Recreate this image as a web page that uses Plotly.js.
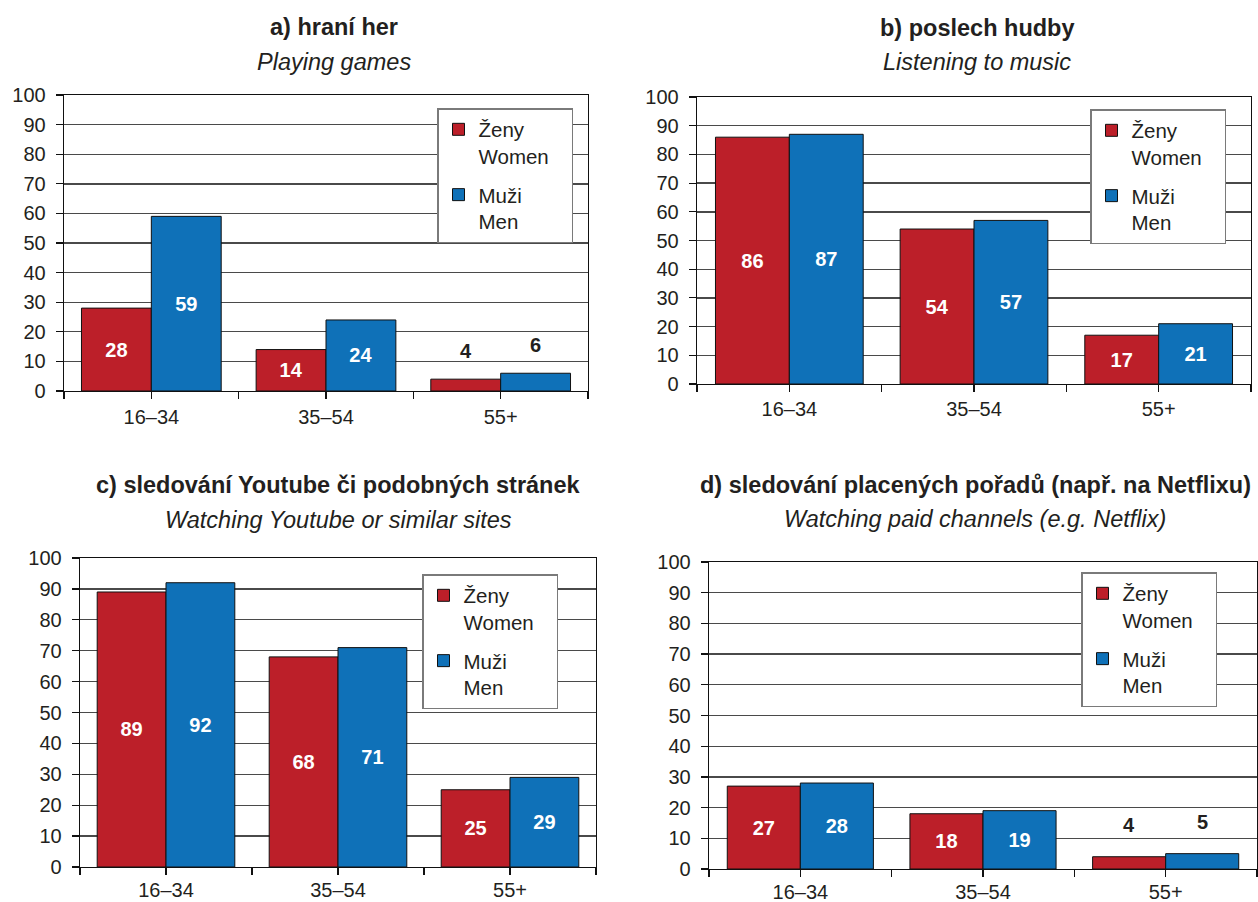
<!DOCTYPE html>
<html>
<head>
<meta charset="utf-8">
<script src="https://cdn.plot.ly/plotly-3.0.1.min.js"></script>
<style>html,body{margin:0;padding:0;background:#fff;}#chart{width:1258px;height:902px;}</style>
</head>
<body>
<div id="chart"></div>
<script>
// ---- data ----
const categories = ['16–34', '35–54', '55+'];
const gamesWomen = [28, 14, 4];
const gamesMen = [59, 24, 6];
const musicWomen = [86, 54, 17];
const musicMen = [87, 57, 21];
const youtubeWomen = [89, 68, 25];
const youtubeMen = [92, 71, 29];
const paidWomen = [27, 18, 4];
const paidMen = [28, 19, 5];
const seriesNames = ['Ženy<br>Women\u00A0\u00A0\u00A0', 'Muži<br>Men'];
const panelTitles = ['a) hraní her', 'b) poslech hudby', 'c) sledování Youtube či podobných stránek', 'd) sledování placených pořadů (např. na Netflixu)'];
const panelSubtitles = ['Playing games', 'Listening to music', 'Watching Youtube or similar sites', 'Watching paid channels (e.g. Netflix)'];
const yTicks = [0, 10, 20, 30, 40, 50, 60, 70, 80, 90, 100];

// ---- styling ----
const W = 1258, H = 902;
const FONT = 'Liberation Sans, Arial, Helvetica, sans-serif';
const TXT = '#231F20';
const RED = '#BC1F29';
const BLUE = '#0F71B8';
const BARGAP = 0.2;
const px = v => v / W;
const py = v => 1 - v / H;

// category positions (index) and tick positions at centres and boundaries
const catIndex = categories.map((c, i) => i);
const xTickVals = [];
const xTickText = [];
for (let i = 0; i < categories.length; i++) {
  xTickVals.push(i - 0.5, i);
  xTickText.push('', categories[i]);
}
xTickVals.push(categories.length - 0.5);
xTickText.push('');

// panel boxes in pixels: [left, right, top(100), bottom(0)]
const boxes = [
  [64, 588, 95, 391],
  [697, 1251, 97, 384],
  [80, 596, 558, 867],
  [709, 1257, 562, 869]
];
const legendPos = [[437, 108], [1090, 109], [422, 574], [1081, 572]];
const titlePos = [[334, 27, 62], [977, 28, 62], [338, 485, 520], [975, 485, 519]];
const yshiftSmall = [28, 28, 28, 32];
const xStandoff = [1, 0, -2, -2];

const panels = [
  [gamesWomen, gamesMen],
  [musicWomen, musicMen],
  [youtubeWomen, youtubeMen],
  [paidWomen, paidMen]
];
const colors = [RED, BLUE];
const groups = ['women', 'men'];

const traces = [];
const layout = {
  width: W, height: H,
  margin: {l: 0, r: 0, t: 0, b: 0},
  paper_bgcolor: '#fff', plot_bgcolor: '#fff',
  barmode: 'group', bargap: BARGAP, bargroupgap: 0,
  font: {family: FONT, color: TXT, size: 20},
  annotations: [],
  showlegend: true
};

panels.forEach((series, p) => {
  const n = p + 1;
  const sfx = n === 1 ? '' : String(n);
  const xa = 'x' + sfx;
  const ya = 'y' + sfx;
  const legendId = 'legend' + sfx;
  const halfBar = (1 - BARGAP) / series.length / 2;
  series.forEach((vals, s) => {
    traces.push({
      type: 'bar', x: catIndex, y: vals, name: seriesNames[s],
      xaxis: xa, yaxis: ya, legend: legendId, legendgroup: groups[s],
      marker: {color: colors[s], line: {color: '#111', width: 1}},
      text: vals.map(v => v >= 10 ? String(v) : ''),
      textposition: 'inside', insidetextanchor: 'middle',
      insidetextfont: {color: '#fff', size: 20, family: FONT, weight: 'bold'},
      constraintext: 'none',
      hoverinfo: 'y'
    });
    // small values labelled above the bar
    vals.forEach((v, i) => {
      if (v < 10) {
        layout.annotations.push({
          xref: xa, yref: ya,
          x: catIndex[i] + (2 * s - 1) * halfBar, y: v,
          yshift: yshiftSmall[p], yanchor: 'middle',
          text: '<b>' + v + '</b>', showarrow: false,
          font: {size: 20, color: TXT, family: FONT}
        });
      }
    });
  });

  const b = boxes[p];
  layout['xaxis' + sfx] = {
    domain: [px(b[0]), px(b[1])], anchor: ya, type: 'linear',
    range: [-0.5, categories.length - 0.5],
    tickmode: 'array', tickvals: xTickVals, ticktext: xTickText,
    showline: true, linecolor: '#111', linewidth: 1.3, mirror: true,
    ticks: 'outside', ticklen: 7, tickcolor: '#111', tickwidth: 1.2,
    showgrid: false, zeroline: false,
    tickfont: {size: 20, color: TXT, family: FONT},
    ticklabelstandoff: xStandoff[p],
    fixedrange: true
  };
  layout['yaxis' + sfx] = {
    domain: [py(b[3]), py(b[2])], anchor: xa, range: [0, 100],
    tickmode: 'array', tickvals: yTicks,
    showline: true, linecolor: '#111', linewidth: 1.3, mirror: true,
    ticks: 'outside', ticklen: 7, tickcolor: '#111', tickwidth: 1.2,
    showgrid: true, gridcolor: '#4a4a4a', gridwidth: 1.4, zeroline: false,
    tickfont: {size: 20, color: TXT, family: FONT},
    ticklabelstandoff: 6,
    fixedrange: true
  };
  const lp = legendPos[p];
  layout[legendId] = {
    x: px(lp[0]), y: py(lp[1]), xanchor: 'left', yanchor: 'top',
    bgcolor: '#fff', bordercolor: '#7a7a7a', borderwidth: 1.5,
    font: {size: 20.5, color: TXT, family: FONT},
    valign: 'top', tracegroupgap: 9, itemclick: false, itemdoubleclick: false
  };
  const tp = titlePos[p];
  layout.annotations.push({
    xref: 'paper', yref: 'paper', x: px(tp[0]), y: py(tp[1]),
    xanchor: 'center', yanchor: 'middle', showarrow: false,
    text: '<b>' + panelTitles[p] + '</b>',
    font: {size: 23.5, color: TXT, family: FONT}
  });
  layout.annotations.push({
    xref: 'paper', yref: 'paper', x: px(tp[0]), y: py(tp[2]),
    xanchor: 'center', yanchor: 'middle', showarrow: false,
    text: '<i>' + panelSubtitles[p] + '</i>',
    font: {size: 23.5, color: TXT, family: FONT}
  });
});

Plotly.newPlot('chart', traces, layout, {displayModeBar: false, staticPlot: true});
</script>
</body>
</html>
